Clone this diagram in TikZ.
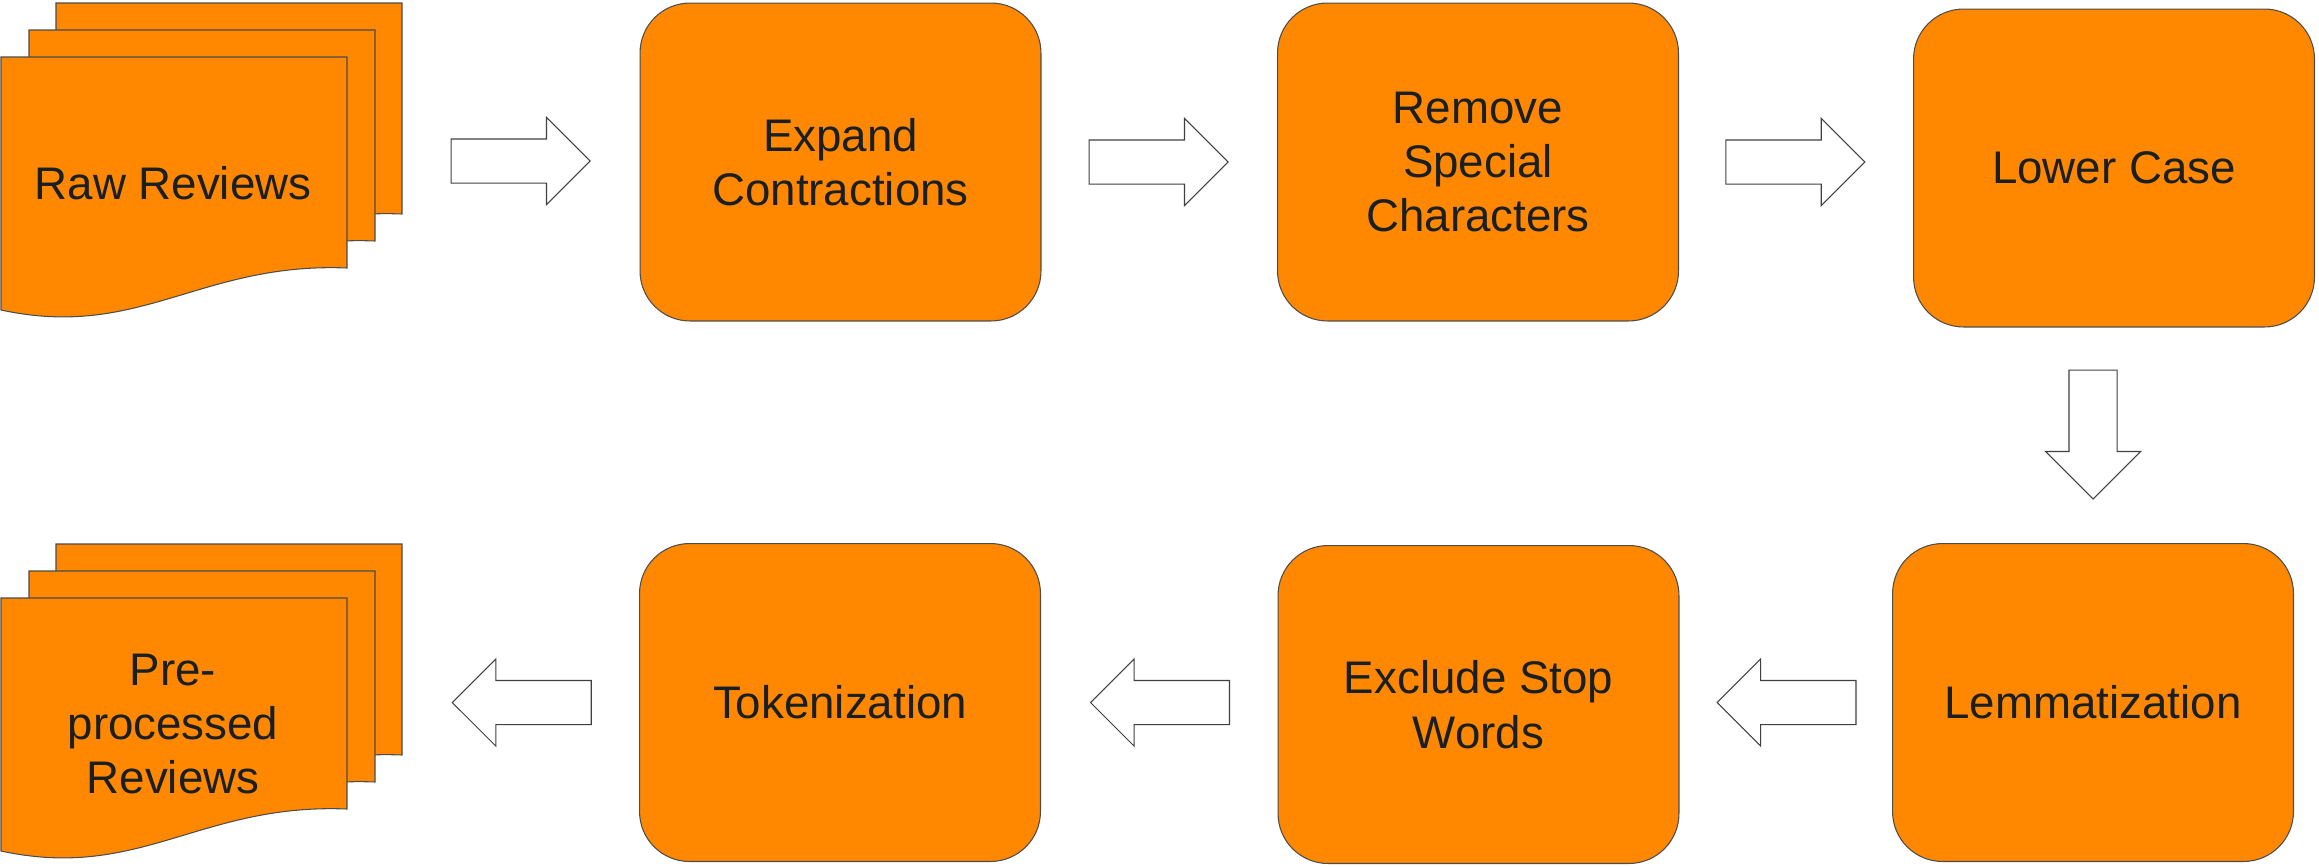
\documentclass[tikz,border=0pt]{standalone}
\usepackage{fontspec}
\setmainfont{Liberation Sans}
\usetikzlibrary{shapes.arrows,calc}
\definecolor{boxorange}{HTML}{FF8800}
\definecolor{textdark}{HTML}{1A1F24}
\begin{document}
\begin{tikzpicture}[x=0.02cm, y=-0.02cm,
        font=\fontsize{26}{31}\selectfont,
        stepbox/.style={draw=black!70, line width=0.6pt, fill=boxorange, rounded corners=1cm,
            minimum width=8.02cm, minimum height=6.36cm, align=center, text=textdark, inner sep=0pt},
        docsheet/.style={draw=black!70, line width=0.6pt, fill=boxorange},
        doctext/.style={align=center, text=textdark},
        blockarrow/.style={single arrow, draw=black!75, line width=0.6pt, fill=white,
            minimum height=2.78cm, minimum width=1.72cm, single arrow head extend=0.43cm,
            inner sep=0.43cm, anchor=tip}]
    \useasboundingbox (0,0) rectangle (2319,866);
    % stacked documents, back sheet first
    \foreach \dx/\dy in {55/-54, 28/-27, 0/0} {
        \draw[docsheet, shift={(1+\dx,57+\dy)}] (0,0) -- (346,0) -- (346,211)
            .. controls (199,205) and (139,283) .. (0,253) -- cycle;
        \draw[docsheet, shift={(1+\dx,598+\dy)}] (0,0) -- (346,0) -- (346,211)
            .. controls (199,205) and (139,283) .. (0,253) -- cycle;
    }
    \coordinate (raw-r) at (403,161);
    \coordinate (pre-r) at (403,702);
    \node[doctext] (raw) at (173,183) {Raw Reviews};
    \node[doctext] (pre) at (173,724) {Pre-\\processed\\Reviews};
    % processing steps
    \node[stepbox] (expand)  at (840.5,162)   {Expand\\Contractions};
    \node[stepbox] (remove)  at (1478,162)    {Remove\\Special\\Characters};
    \node[stepbox] (lower)   at (2114,168)    {Lower Case};
    \node[stepbox] (lemma)   at (2093,702.5)  {Lemmatization};
    \node[stepbox] (exclude) at (1478.5,704.5) {Exclude Stop\\Words};
    \node[stepbox] (token)   at (840,702.5)   {Tokenization};
    % block arrows between the steps (placed by their tips)
    \node[blockarrow] (a1) at ($(raw-r)!0.5!(expand.west |- raw-r)+(69.5,0)$) {};
    \node[blockarrow] (a2) at ($(expand.east)!0.5!(remove.west)+(69.5,0)$) {};
    \node[blockarrow] (a3) at ($(remove.east)!0.5!(lower.west |- remove.east)+(69.5,0)$) {};
    \node[blockarrow, shape border rotate=270, minimum height=2.58cm, minimum width=1.88cm,
        single arrow head extend=0.47cm, inner sep=0.47cm] (a4)
        at ($(lower.south -| lemma.north)!0.5!(lemma.north)+(0,64.5)$) {};
    \node[blockarrow, shape border rotate=180] (a5) at ($(lemma.west)!0.5!(exclude.east |- lemma.west)+(-69.5,0)$) {};
    \node[blockarrow, shape border rotate=180] (a6) at ($(exclude.west |- token.east)!0.5!(token.east)+(-69.5,0)$) {};
    \node[blockarrow, shape border rotate=180] (a7) at ($(token.west)!0.5!(pre-r |- token.west)+(-69.5,0)$) {};
\end{tikzpicture}
\end{document}
